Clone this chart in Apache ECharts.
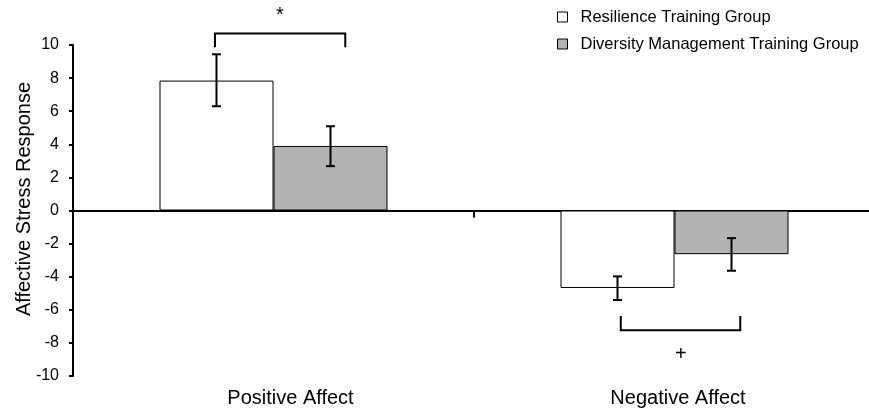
<!DOCTYPE html>
<html>
<head>
<meta charset="utf-8">
<script src="https://cdn.jsdelivr.net/npm/echarts@6/dist/echarts.min.js"></script>
<style>
  html, body { margin: 0; padding: 0; background: #fff; }
  #chart { width: 869px; height: 409px; }
</style>
</head>
<body>
<div id="chart"></div>
<script>
// 数据
const categories = ['Positive Affect', 'Negative Affect'];
const seriesNames = ['Resilience Training Group', 'Diversity Management Training Group'];
const resilience = [7.85, -4.68];
const diversity = [3.9, -2.64];
// 误差线 [下, 上]
const resilienceErr = [[6.3, 9.44], [-5.41, -3.98]];
const diversityErr = [[2.68, 5.09], [-3.64, -1.67]];
// 显著性标记
const sigMarks = ['*', '+'];
const bracketLevel = [10.7, -7.24];
const bracketTip = [9.86, -6.37];
const markLevel = [11.8, -8.7];
const yMin = -10, yMax = 10, yStep = 2;

const FONT = '"Liberation Sans", Arial, sans-serif';
const BAR_W = 114;

const chart = echarts.init(document.getElementById('chart'));

// 误差线
const errorSeries = (errs, shift) => ({
  type: 'custom',
  xAxisIndex: 1,
  data: errs.map((e, i) => [i, e[0], e[1]]),
  renderItem(params, api) {
    const lo = api.coord([api.value(0), api.value(1)]);
    const hi = api.coord([api.value(0), api.value(2)]);
    const x = lo[0] + shift;
    const cap = 4.5;
    const style = { stroke: '#000', lineWidth: 2 };
    return {
      type: 'group',
      children: [
        { type: 'line', shape: { x1: x, y1: lo[1], x2: x, y2: hi[1] }, style },
        { type: 'line', shape: { x1: x - cap, y1: lo[1], x2: x + cap, y2: lo[1] }, style },
        { type: 'line', shape: { x1: x - cap, y1: hi[1], x2: x + cap, y2: hi[1] }, style }
      ]
    };
  },
  z: 5,
  silent: true
});

const option = {
  animation: false,
  textStyle: { fontFamily: FONT },
  grid: { left: 73, top: 45, width: 802, height: 331, outerBoundsMode: 'none', containLabel: false },
  legend: {
    orient: 'vertical',
    left: 557,
    top: 8,
    padding: 0,
    itemGap: 9,
    itemWidth: 10,
    itemHeight: 10,
    icon: 'rect',
    itemStyle: { borderColor: '#000', borderWidth: 1 },
    textStyle: { fontSize: 16.5, color: '#000', fontFamily: FONT, lineHeight: 18, padding: [0, 0, 0, 8] },
    data: seriesNames
  },
  graphic: [{
    type: 'text',
    x: 24, y: 199,
    rotation: Math.PI / 2,
    style: {
      text: 'Affective Stress Response',
      font: '20px ' + FONT,
      fill: '#000',
      align: 'center',
      verticalAlign: 'middle'
    }
  }],
  xAxis: [
    {
      type: 'category',
      data: categories,
      position: 'bottom',
      axisLine: { show: false, onZero: false },
      axisTick: { show: false },
      axisLabel: {
        margin: 12,
        formatter: (v, i) => (i === 0 ? '{a|' + v + '}' : '{b|' + v + '}'),
        rich: {
          a: { fontSize: 20, color: '#000', fontFamily: FONT, padding: [0, 0, 0, 34] },
          b: { fontSize: 20, color: '#000', fontFamily: FONT, padding: [0, 0, 0, 7] }
        }
      }
    },
    {
      type: 'category',
      data: categories,
      position: 'bottom',
      axisLine: { show: true, onZero: true, lineStyle: { color: '#000', width: 2 } },
      axisTick: { show: true, length: 7, lineStyle: { color: '#000', width: 2 } },
      axisLabel: { show: false }
    }
  ],
  yAxis: {
    type: 'value',
    min: yMin,
    max: yMax,
    interval: yStep,
    splitLine: { show: false },
    axisLine: { show: true, lineStyle: { color: '#000', width: 2 } },
    axisTick: { show: true, length: 4, lineStyle: { color: '#000', width: 2 } },
    axisLabel: { fontSize: 16, color: '#000', margin: 14, fontFamily: FONT }
  },
  series: [
    {
      name: seriesNames[0],
      type: 'bar',
      data: resilience,
      barWidth: BAR_W,
      barGap: '0%',
      itemStyle: { color: '#ffffff', borderColor: '#000', borderWidth: 1 }
    },
    {
      name: seriesNames[1],
      type: 'bar',
      data: diversity,
      barWidth: BAR_W,
      barGap: '0%',
      itemStyle: { color: '#b3b3b3', borderColor: '#000', borderWidth: 1 }
    },
    errorSeries(resilienceErr, -BAR_W / 2),
    errorSeries(diversityErr, BAR_W / 2),
    {
      // 显著性括号
      type: 'custom',
      xAxisIndex: 1,
      clip: false,
      data: sigMarks.map((m, i) => [i, bracketLevel[i], bracketTip[i], markLevel[i]]),
      renderItem(params, api) {
        const i = api.value(0);
        const band = api.size([1, 0])[0];
        const level = api.coord([i, api.value(1)]);
        const tip = api.coord([i, api.value(2)]);
        const mark = api.coord([i, api.value(3)]);
        const c = level[0];
        const x1 = c - (i === 0 ? 0.146 : 0.134) * band;
        const x2 = c + (i === 0 ? 0.179 : 0.164) * band;
        const style = { stroke: '#000', lineWidth: 2, fill: null };
        return {
          type: 'group',
          children: [
            {
              type: 'polyline',
              shape: { points: [[x1, tip[1]], [x1, level[1]], [x2, level[1]], [x2, tip[1]]] },
              style
            },
            {
              type: 'text',
              style: {
                text: sigMarks[i],
                x: c + 0.016 * band,
                y: mark[1],
                font: '20px ' + FONT,
                fill: '#000',
                align: 'center',
                verticalAlign: 'middle'
              }
            }
          ]
        };
      },
      z: 6,
      silent: true
    }
  ]
};

chart.setOption(option);
</script>
</body>
</html>
